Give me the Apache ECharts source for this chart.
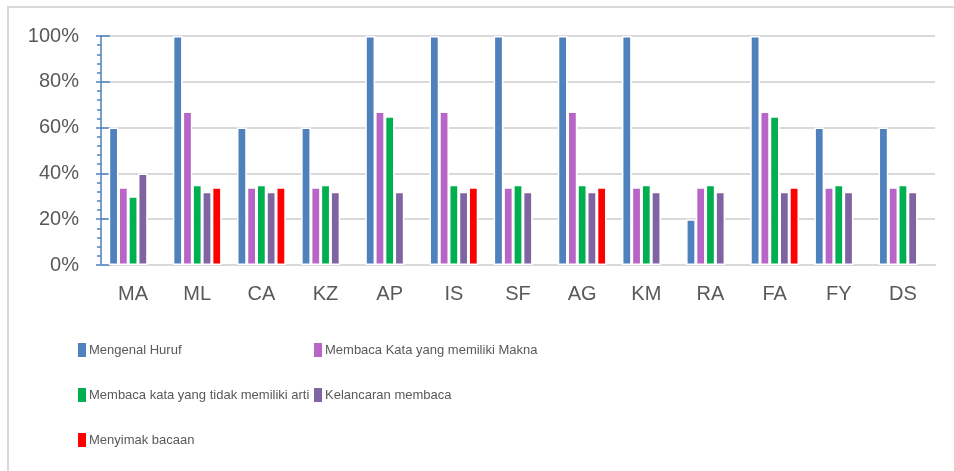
<!DOCTYPE html>
<html>
<head>
<meta charset="utf-8">
<script src="https://cdn.jsdelivr.net/npm/echarts@6/dist/echarts.min.js"></script>
<style>html,body{margin:0;padding:0;background:#fff}#c{width:954px;height:471px}</style>
</head>
<body>
<div id="c"></div>
<script>
const categories = ['MA','ML','CA','KZ','AP','IS','SF','AG','KM','RA','FA','FY','DS'];
const seriesNames = ['Mengenal Huruf','Membaca Kata yang memiliki Makna','Membaca kata yang tidak memiliki arti','Kelancaran membaca','Menyimak bacaan'];
const mengenalHuruf   = [60,100,60,60,100,100,100,100,100,20,100,60,60];
const membacaMakna    = [34,67,34,34,67,67,34,67,34,34,67,34,34];
const membacaTanpaArti= [30,35,35,35,65,35,35,35,35,35,65,35,35];
const kelancaran      = [40,32,32,32,32,32,32,32,32,32,32,32,32];
const menyimak        = [null,34,34,null,null,34,null,34,null,null,34,null,null];
const yTicks = [0,20,40,60,80,100];

const colors = ['#4f81bd','#b865c8','#00b050','#8064a2','#ff0000'];
const allData = [mengenalHuruf, membacaMakna, membacaTanpaArti, kelancaran, menyimak];
const txt = '#595959';

const legendPos = [[78,342],[314,342],[78,387],[314,387],[78,432]];

const chart = echarts.init(document.getElementById('c'), null, {renderer:'canvas'});
chart.setOption({
  animation:false,
  backgroundColor:'#fff',
  graphic:[{type:'rect',shape:{x:8,y:7,width:1000,height:600},style:{fill:'none',stroke:'#d9d9d9',lineWidth:2},silent:true}],
  grid:{left:101,right:19,top:36,bottom:206},
  legend: seriesNames.map((n,i)=>({
    data:[n], left:legendPos[i][0], top:legendPos[i][1], padding:0,
    itemWidth:8, itemHeight:14, itemStyle:{borderWidth:0},
    icon:'rect',
    textStyle:{fontFamily:'"Liberation Sans",Arial,sans-serif',fontSize:13,lineHeight:16,color:txt,padding:[0,0,0,-2]}
  })),
  xAxis:{type:'category',data:categories,
    axisLine:{lineStyle:{color:'#d9d9d9',width:2}},
    axisTick:{show:false},
    axisLabel:{color:txt,fontSize:20,fontFamily:'"Liberation Sans",Arial,sans-serif',margin:19}},
  yAxis:[{type:'value',min:0,max:100,interval:20,
    axisLine:{show:true,lineStyle:{color:'#4f81bd',width:1.5}},
    axisTick:{show:true,length:5,lineStyle:{color:'#4f81bd',width:1.5}},
    minorTick:{show:true,splitNumber:5,length:4,lineStyle:{color:'#4f81bd',width:1.5}},
    splitLine:{lineStyle:{color:'#d9d9d9',width:2}},
    axisLabel:{color:txt,fontSize:20,fontFamily:'"Liberation Sans",Arial,sans-serif',margin:22,
      formatter:v=>yTicks.includes(v)?v+'%':''}},
   {type:'value',min:0,max:100,interval:20,position:'left',
    axisLine:{show:false},axisLabel:{show:false},splitLine:{show:false},
    axisTick:{show:true,inside:true,length:9,lineStyle:{color:'#4f81bd',width:1.5}}}],
  series: seriesNames.map((n,i)=>({
    name:n,type:'bar',data:allData[i],
    barGap:'0%',barCategoryGap:'24%',
    itemStyle:{color:colors[i],borderColor:'#ffffff',borderWidth:1.5}
  }))
});
</script>
</body>
</html>
